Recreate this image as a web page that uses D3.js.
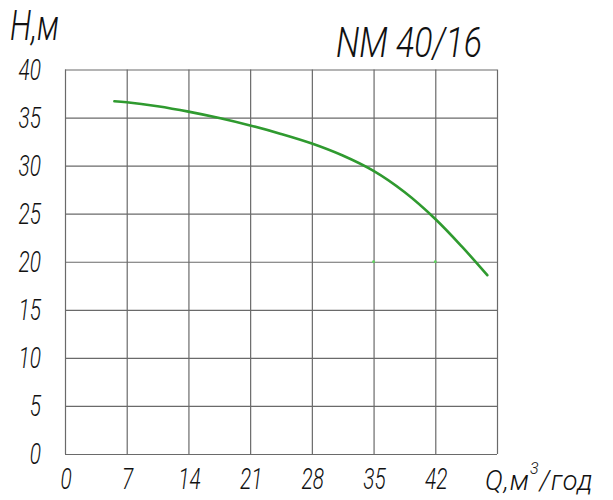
<!DOCTYPE html>
<html>
<head>
<meta charset="utf-8">
<script src="https://cdn.jsdelivr.net/npm/d3@7/dist/d3.min.js"></script>
<style>
  body { margin: 0; background: #fff; }
  text { font-family: Roboto, "DejaVu Sans Condensed", sans-serif; font-weight: 300; font-style: italic; fill: #111; }
</style>
</head>
<body>
<div id="chart"></div>
<script>
// pump curve NM 40/16
var flow = [5.6, 7, 10.5, 14, 17.5, 21, 24.5, 28, 31.5, 35, 38.5, 42, 45, 47.9];
var head = [36.7, 36.6, 36.18, 35.62, 34.95, 34.18, 33.3, 32.3, 31.05, 29.45, 27.25, 24.45, 21.6, 18.6];
var xTicks = [0, 7, 14, 21, 28, 35, 42];
var yTicks = [0, 5, 10, 15, 20, 25, 30, 35, 40];
// two stray green dots on the 20 m line
var dotQ = [35, 42];
var dotH = [20, 20];

var width = 613, height = 500;
var gLeft = 65, gRight = 497, gTop = 69.5, gBottom = 454;
var squeeze = 0.72;

var svg = d3.select('#chart').append('svg')
  .attr('width', width)
  .attr('height', height);

var x = d3.scaleLinear().domain([0, 49]).range([gLeft, gRight]);
var y = d3.scaleLinear().domain([0, 40]).range([gBottom, gTop]);

// grid: vertical lines
var xAxis = svg.append('g')
  .attr('transform', 'translate(0,' + gBottom + ')')
  .call(d3.axisBottom(x).tickValues(xTicks.concat([49])).tickSize(-(gBottom - gTop)).tickFormat(''));
xAxis.select('.domain').remove();
xAxis.selectAll('line').attr('stroke', '#6a6a6a').attr('stroke-width', 1.2);

// grid: horizontal lines
var yAxis = svg.append('g')
  .attr('transform', 'translate(' + gLeft + ',0)')
  .call(d3.axisLeft(y).tickValues(yTicks).tickSize(-(gRight - gLeft)).tickFormat(''));
yAxis.select('.domain').remove();
yAxis.selectAll('line').attr('stroke', '#6a6a6a').attr('stroke-width', 1.2);

// narrow italic text, placed by translate then squeezed horizontally
var label = function(px, py, anchor, size, txt) {
  return svg.append('text')
    .attr('transform', 'translate(' + px + ',' + py + ') scale(' + squeeze + ',1)')
    .attr('text-anchor', anchor)
    .style('font-size', size + 'px')
    .text(txt);
}

xTicks.forEach(function(d) {
  label(x(d) + 1, 489, 'middle', 29, d);
});
yTicks.forEach(function(d) {
  label(41, y(d) + 10, 'end', 29, d);
});

// axis titles
label(10, 40, 'start', 43, 'H,м');

var q = svg.append('text')
  .attr('transform', 'translate(485,490)')
  .style('font-size', '27px')
  .style('letter-spacing', '1px');
q.append('tspan').text('Q,м');
q.append('tspan').attr('dy', -16).style('font-size', '16px').text('3');
q.append('tspan').attr('dy', 16).text('/год');

// chart title
svg.append('text')
  .attr('x', 336).attr('y', 57)
  .style('font-size', '42px')
  .attr('textLength', 146).attr('lengthAdjust', 'spacingAndGlyphs')
  .text('NM 40/16');

// curve
var pts = flow.map(function(d, i) { return [d, head[i]]; });
var line = d3.line()
  .x(function(d) { return x(d[0]); })
  .y(function(d) { return y(d[1]); })
  .curve(d3.curveCatmullRom);

svg.append('path')
  .datum(pts)
  .attr('d', line)
  .attr('fill', 'none')
  .attr('stroke', '#2f9a2f')
  .attr('stroke-width', 2.6)
  .attr('stroke-linecap', 'round');

svg.selectAll('.dot').data(dotQ).enter().append('circle')
  .attr('cx', function(d) { return x(d); })
  .attr('cy', function(d, i) { return y(dotH[i]); })
  .attr('r', 1.4)
  .attr('fill', '#5fd35f');
</script>
</body>
</html>
